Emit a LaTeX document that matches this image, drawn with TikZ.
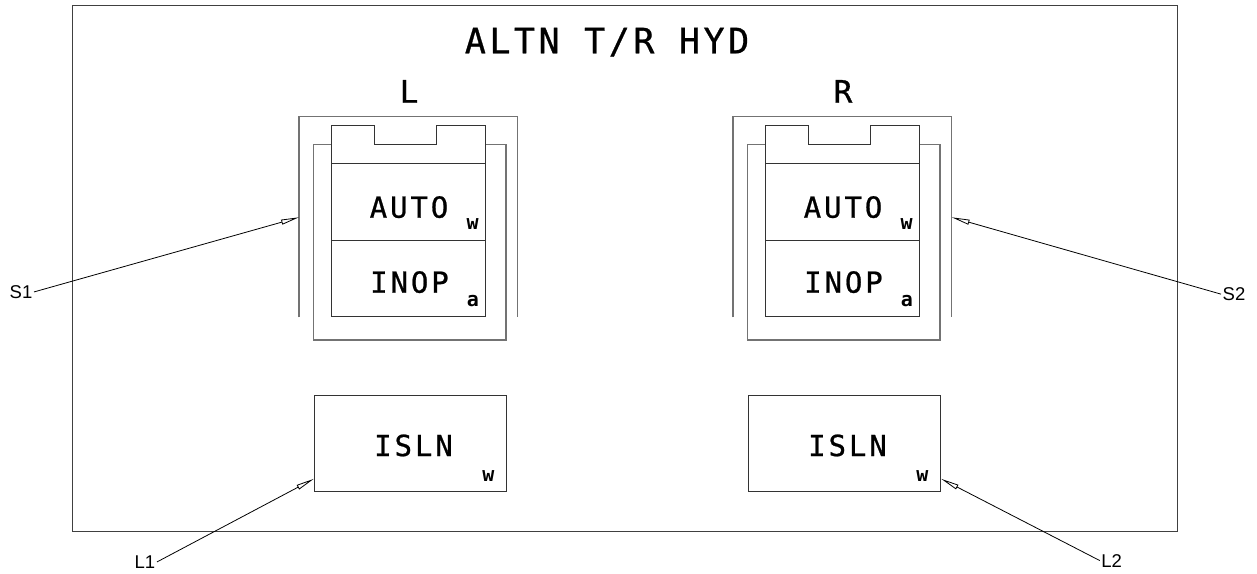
\documentclass[tikz,border=0pt]{standalone}
\usepackage{fontspec}
\newfontfamily\panelfont{DejaVu Sans Mono}[LetterSpace=10,FakeBold=0.8]
\newfontfamily\markfont{DejaVu Sans Mono}
\newfontfamily\calloutfont{Liberation Sans}
\usetikzlibrary{arrows.meta}

\begin{document}
\begin{tikzpicture}[x=1pt, y=-1pt, >={Triangle[open,length=18pt,width=5pt]},
  panel/.style={line width=1.4pt, draw=black!75},
  guard/.style={line width=1.4pt, draw=black!55},
  cell/.style={line width=1pt, draw=black!80},
  lamp/.style={cell, rectangle, minimum width=154.4pt, minimum height=76.6pt, inner sep=0pt},
  islnbox/.style={cell, rectangle, minimum width=192.4pt, minimum height=95.3pt, inner sep=0pt},
  title/.style={anchor=base, inner sep=0pt, font=\panelfont\fontsize{35}{40}\selectfont},
  sidelbl/.style={anchor=base, inner sep=0pt, font=\panelfont\fontsize{31}{36}\selectfont},
  legend/.style={anchor=base, inner sep=0pt, font=\panelfont\fontsize{29}{34}\selectfont},
  colr/.style={anchor=base, inner sep=0pt, font=\markfont\bfseries\fontsize{20}{24}\selectfont},
  callout/.style={anchor=base, inner sep=1.5pt, font=\calloutfont\fontsize{18.5}{22}\selectfont},
  leader/.style={->, line width=0.8pt, black}]

  \useasboundingbox (0,0) rectangle (1257,573);

  % Panel frame
  \draw[panel] (72.7,5.7) rectangle (1177.3,531.7);
  \node[title] (title) at (607,53.3) {ALTN T/R HYD};

  % Left / right switches
  \foreach \s/\dx in {L/0,R/434} {
    \begin{scope}[xshift=\dx]
      \node[sidelbl] (side\s) at (409,102.7) {\s};
      % guards
      \draw[guard] (299,317.3) -- (299,116.7) -- (517.7,116.7) -- (517.7,317.3);
      \draw[guard] (331.3,144.7) -- (313.3,144.7) -- (313.3,340) -- (506,340) -- (506,144.7) -- (485.7,144.7);
      % switch cap
      \draw[cell] (331.3,163.7) -- (331.3,125.3) -- (374.3,125.3) -- (374.3,144)
        -- (436.7,144) -- (436.7,125.3) -- (485.7,125.3) -- (485.7,163.7);
      \node[lamp] (auto\s) at (408.5,202) {};
      \node[lamp] (inop\s) at (408.5,278.6) {};
      \node[legend] (autotxt\s) at (409,217.7) {AUTO};
      \node[colr] (autocol\s) at (472.7,229.3) {w};
      \node[legend] (inoptxt\s) at (409.5,292.7) {INOP};
      \node[colr] (inopcol\s) at (473,306.2) {a};
      % isolation light
      \node[islnbox] (isln\s) at (410.5,443.4) {};
      \node[legend] (islntxt\s) at (413.5,456) {ISLN};
      \node[colr] (islncol\s) at (488.3,481.7) {w};
    \end{scope}
  }

  % Callouts
  \coordinate (tipS1) at (299,217.3);
  \coordinate (tipS2) at (951.7,217.3);
  \node[callout] (S1) at (21,298.3) {S1};
  \node[callout] (S2) at (1234,300.5) {S2};
  \node[callout] (L1) at (145,568.3) {L1};
  \node[callout] (L2) at (1111.7,567) {L2};
  \draw[leader] (S1.east) -- (tipS1);
  \draw[leader] (S2.west) -- (tipS2);
  \draw[leader] (L1.east) -- ([yshift=12.7pt]islnL.south west);
  \draw[leader] (L2.west) -- ([yshift=12.7pt]islnR.south east);
\end{tikzpicture}
\end{document}
